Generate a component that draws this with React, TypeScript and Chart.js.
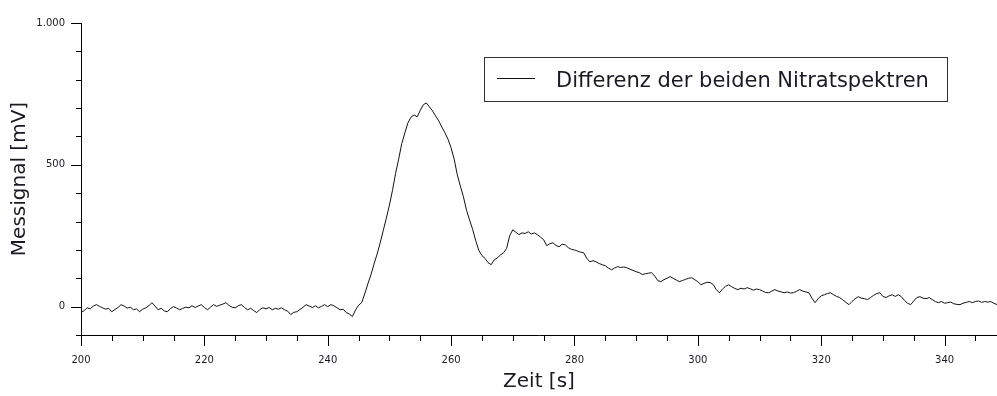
import React, { useEffect, useRef } from "react";
import { Chart, registerables } from "chart.js";

Chart.register(...registerables);

// Detector signal, sampled every 0.5 s starting at 200 s
const SERIES_LABEL = "Differenz der beiden Nitratspektren";
const START_TIME_S = 200;
const SAMPLE_STEP_S = 0.5;
const SIGNAL_MV = [
  // 200 - 245 s: baseline
  -21, -14, -4, -8, 2, 7, 1, -4, -9, -6,
  -18, -10, -3, 7, 2, -5, -2, -11, -8, -18,
  -9, -4, 3, 14, 2, -11, -6, -15, -18, -7,
  0, -5, -11, -6, -2, -4, 3, -3, 2, 7,
  -3, -11, -2, 7, 1, 5, 9, 14, 4, -2,
  -4, 3, 7, -3, -11, -6, -14, -21, -10, -4,
  -8, -3, -11, -6, -9, -4, -11, -16, -28, -20,
  -18, -10, -2, 7, 2, -3, 3, -4, 1, 7,
  0, 7, 3, -4, -11, -9, -21, -26, -35, -12,
  // 245 - 265 s: main peak
  5, 14, 45, 80, 112, 150, 185, 225, 268, 312,
  358, 410, 470, 520, 575, 612, 648, 668, 676, 669,
  692, 712, 718, 704, 690, 672, 655, 633, 613, 590,
  560, 520, 465, 425, 387, 340, 305, 272, 232, 198,
  // 265 - 300 s: shoulder and decay
  180, 170, 155, 148, 165, 172, 182, 190, 205, 250,
  271, 262, 254, 260, 258, 264, 256, 260, 254, 245,
  236, 215, 222, 225, 216, 211, 220, 218, 208, 202,
  200, 196, 192, 190, 170, 158, 162, 158, 152, 148,
  144, 136, 130, 136, 141, 138, 140, 137, 132, 128,
  123, 120, 113, 116, 118, 120, 108, 92, 88, 95,
  100, 106, 100, 94, 88, 92, 96, 100, 102, 95,
  // 300 - 348.5 s: tail
  88, 77, 82, 86, 85, 78, 60, 49, 62, 72,
  77, 70, 64, 60, 65, 62, 67, 63, 58, 62,
  60, 55, 50, 49, 55, 60, 55, 52, 49, 52,
  48, 49, 54, 60, 55, 52, 49, 30, 14, 28,
  38, 42, 46, 49, 42, 36, 32, 24, 15, 7,
  18, 28, 35, 30, 28, 25, 32, 40, 46, 49,
  36, 32, 38, 42, 36, 42, 35, 22, 12, 7,
  20, 32, 35, 30, 28, 32, 25, 18, 14, 18,
  12, 14, 16, 10, 8, 7, 12, 15, 18, 14,
  18, 20, 15, 18, 16, 18, 12, 7,
];

const X_MIN = 200;
const X_MAX = 348.5;
const X_MINOR_STEP = 5;
const X_MAJOR_TICKS = [200, 220, 240, 260, 280, 300, 320, 340];

const Y_MIN = -100;
const Y_MAX = 1000;
const Y_MINOR_STEP = 100;
const Y_MAJOR_TICKS = [0, 500, 1000];

const FONT_FAMILY = "'DejaVu Sans', Verdana, sans-serif";
const TEXT_COLOR = "#1a1a24";
const LINE_COLOR = "#111111";

const formatThousands = (v: number) =>
  String(Math.round(v)).replace(/\B(?=(\d{3})+(?!\d))/g, ".");

const isOneOf = (list: number[], v: number) =>
  list.some((m) => Math.abs(m - v) < 1e-6);

// Outward tick marks: long at labelled values, short in between
const tickMarksPlugin = {
  id: "tickMarks",
  afterDraw(chart: any) {
    const { ctx, chartArea } = chart;
    const xs = chart.scales.x;
    const ys = chart.scales.y;
    ctx.save();
    ctx.strokeStyle = "#000";
    ctx.lineWidth = 1;
    ctx.beginPath();
    xs.ticks.forEach((t: any) => {
      if (Math.abs(t.value / X_MINOR_STEP - Math.round(t.value / X_MINOR_STEP)) > 1e-6) return;
      const px = Math.round(xs.getPixelForValue(t.value)) + 0.5;
      const len = isOneOf(X_MAJOR_TICKS, t.value) ? 11 : 6;
      ctx.moveTo(px, chartArea.bottom);
      ctx.lineTo(px, chartArea.bottom + len);
    });
    ys.ticks.forEach((t: any) => {
      if (Math.abs(t.value / Y_MINOR_STEP - Math.round(t.value / Y_MINOR_STEP)) > 1e-6) return;
      const py = Math.round(ys.getPixelForValue(t.value)) + 0.5;
      const len = isOneOf(Y_MAJOR_TICKS, t.value) ? 10 : 5;
      ctx.moveTo(chartArea.left, py);
      ctx.lineTo(chartArea.left - len, py);
    });
    ctx.stroke();
    ctx.restore();
  },
};

// Boxed legend inside the plot area, top right
const boxedLegendPlugin = {
  id: "boxedLegend",
  afterDraw(chart: any) {
    const { ctx, chartArea } = chart;
    const ds = chart.data.datasets[0];
    const boxW = 463;
    const boxH = 44;
    const left = chartArea.right - 50 - boxW;
    const top = chartArea.top + 34;
    ctx.save();
    ctx.fillStyle = "#fff";
    ctx.fillRect(left, top, boxW, boxH);
    ctx.strokeStyle = "#333";
    ctx.lineWidth = 1;
    ctx.strokeRect(left + 0.5, top + 0.5, boxW, boxH);
    ctx.strokeStyle = ds.borderColor;
    ctx.beginPath();
    ctx.moveTo(left + 13, top + 21.5);
    ctx.lineTo(left + 51, top + 21.5);
    ctx.stroke();
    ctx.fillStyle = TEXT_COLOR;
    ctx.font = `21px ${FONT_FAMILY}`;
    ctx.textBaseline = "alphabetic";
    ctx.textAlign = "left";
    ctx.fillText(ds.label, left + 72, top + 30);
    ctx.restore();
  },
};

export default function App() {
  const canvasRef = useRef<HTMLCanvasElement | null>(null);

  useEffect(() => {
    const canvas = canvasRef.current;
    if (!canvas) return;
    const points = SIGNAL_MV.map((v, i) => ({ x: START_TIME_S + i * SAMPLE_STEP_S, y: v }));

    const chart = new Chart(canvas, {
      type: "line",
      data: {
        datasets: [
          {
            label: SERIES_LABEL,
            data: points,
            borderColor: LINE_COLOR,
            borderWidth: 1,
            pointRadius: 0,
            tension: 0,
            fill: false,
          },
        ],
      },
      options: {
        responsive: false,
        animation: false,
        devicePixelRatio: 1,
        layout: { padding: { top: 23, right: 0, left: 0, bottom: 0 } },
        plugins: {
          legend: { display: false },
          tooltip: { enabled: false },
        },
        scales: {
          x: {
            type: "linear",
            min: X_MIN,
            max: X_MAX,
            grid: { display: false, drawTicks: false, tickLength: 0 },
            border: { display: true, color: "#000", width: 1 },
            ticks: {
              stepSize: X_MINOR_STEP,
              autoSkip: false,
              includeBounds: false,
              maxRotation: 0,
              padding: 19,
              color: TEXT_COLOR,
              font: { family: FONT_FAMILY, size: 10 },
              callback: (v: any) => (isOneOf(X_MAJOR_TICKS, Number(v)) ? String(v) : ""),
            },
            title: {
              display: true,
              text: "Zeit [s]",
              color: TEXT_COLOR,
              font: { family: FONT_FAMILY, size: 20 },
              padding: { top: 0, bottom: 2 },
            },
            afterFit: (scale: any) => {
              scale.height = 61;
              scale.paddingLeft = 0;
              scale.paddingRight = 0;
            },
          },
          y: {
            type: "linear",
            min: Y_MIN,
            max: Y_MAX,
            grid: { display: false, drawTicks: false, tickLength: 0 },
            border: { display: true, color: "#000", width: 1 },
            ticks: {
              stepSize: Y_MINOR_STEP,
              autoSkip: false,
              includeBounds: false,
              padding: 16,
              color: TEXT_COLOR,
              font: { family: FONT_FAMILY, size: 10 },
              callback: (v: any) =>
                isOneOf(Y_MAJOR_TICKS, Number(v)) ? formatThousands(Number(v)) : "",
            },
            title: {
              display: true,
              text: "Messignal [mV]",
              color: TEXT_COLOR,
              font: { family: FONT_FAMILY, size: 20 },
              padding: { top: 8, bottom: 0 },
            },
            afterFit: (scale: any) => {
              scale.width = 81;
              scale.paddingTop = 0;
              scale.paddingBottom = 0;
            },
          },
        },
      },
      plugins: [tickMarksPlugin, boxedLegendPlugin],
    });

    return () => chart.destroy();
  }, []);

  return (
    <div
      style={{
        position: "fixed",
        left: 0,
        top: 0,
        width: 997,
        height: 396,
        background: "#fff",
      }}
    >
      <canvas ref={canvasRef} width={997} height={396} style={{ display: "block" }} />
    </div>
  );
}
